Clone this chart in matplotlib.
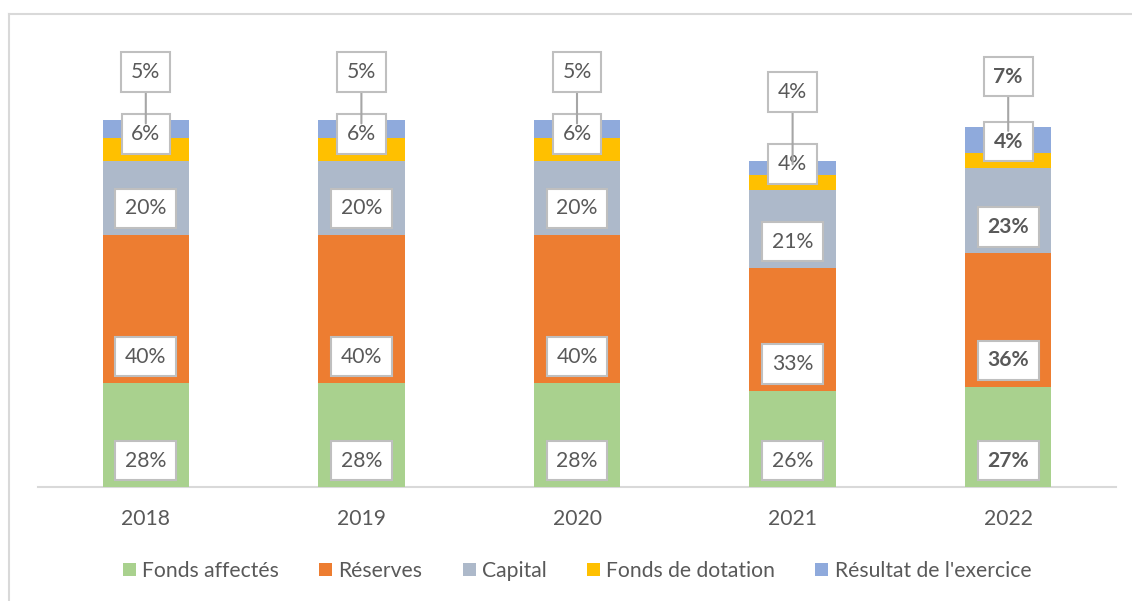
import matplotlib
matplotlib.use("Agg")
import matplotlib.pyplot as plt
from matplotlib.lines import Line2D
import numpy as np

years = ["2018", "2019", "2020", "2021", "2022"]
series_names = ["Fonds affectés", "Réserves", "Capital", "Fonds de dotation", "Résultat de l'exercice"]
fonds_affectes = [28, 28, 28, 26, 27]
reserves = [40, 40, 40, 33, 36]
capital = [20, 20, 20, 21, 23]
fonds_dotation = [6, 6, 6, 4, 4]
resultat = [5, 5, 5, 4, 7]

colors = ["#A9D18E", "#ED7D31", "#ADB9CA", "#FFC000", "#8FAADC"]
text_color = "#595959"
plt.rcParams['font.family'] = ['Lato', 'DejaVu Sans']
FS = 15.2

W, H = 1132, 601
fig = plt.figure(figsize=(W / 100, H / 100), dpi=100)
ax_left, ax_right, ax_bottom, ax_top = 38, 1116, 487, 30
ax = fig.add_axes([ax_left / W, (H - ax_bottom) / H, (ax_right - ax_left) / W, (ax_bottom - ax_top) / H])

px_per_unit = 3.71
ax.set_ylim(0, (ax_bottom - ax_top) / px_per_unit)
ax.set_xlim(-0.5, len(years) - 0.5)

# figure border (cropped frame)
fig.add_artist(Line2D([9 / W, 9 / W], [0, 1 - 14 / H], color="#D9D9D9", lw=1.5))
fig.add_artist(Line2D([9 / W, 1], [1 - 14 / H, 1 - 14 / H], color="#D9D9D9", lw=1.5))

x = np.arange(len(years))
data = [fonds_affectes, reserves, capital, fonds_dotation, resultat]
bottom = np.zeros(len(years))
bottoms = []
for vals, c, name in zip(data, colors, series_names):
    ax.bar(x, vals, bottom=bottom, width=0.4, color=c, label=name, zorder=2)
    bottoms.append(bottom.copy())
    bottom = bottom + np.array(vals)

box = dict(boxstyle="square,pad=0.46", fc="white", ec="#BFBFBF", lw=1.5)

# inside-base labels for first four series
for si in range(4):
    for i in range(len(years)):
        bold = (i == len(years) - 1)
        ax.annotate(f"{data[si][i]}%", xy=(x[i], bottoms[si][i]), xytext=(0, 19),
                    textcoords="offset points", ha="center", va="center",
                    fontsize=FS, color=text_color, fontweight="bold" if bold else "normal",
                    bbox=box, zorder=5)

# callout labels for the last series
callout_offsets = [37, 37, 37, 52, 39]
for i in range(len(years)):
    bold = (i == len(years) - 1)
    top = bottoms[4][i] + resultat[i]
    ax.annotate(f"{resultat[i]}%", xy=(x[i], top - 1), xycoords="data",
                xytext=(0, callout_offsets[i]), textcoords="offset points",
                ha="center", va="center", fontsize=FS, color=text_color,
                fontweight="bold" if bold else "normal", bbox=box, zorder=6,
                arrowprops=dict(arrowstyle="-", color="#A6A6A6", lw=1.5, shrinkA=0, shrinkB=0))

for s in ["top", "right", "left"]:
    ax.spines[s].set_visible(False)
ax.spines["bottom"].set_color("#D9D9D9")
ax.spines["bottom"].set_linewidth(1.5)
ax.spines["bottom"].set_zorder(1)
ax.set_yticks([])
ax.set_xticks(x)
ax.set_xticklabels(years, fontsize=FS, color=text_color)
ax.tick_params(axis="x", length=0, pad=16)

ax.legend(loc="center", bbox_to_anchor=(0.5, (ax_bottom - 571) / (ax_bottom - ax_top)),
          ncol=5, frameon=False, fontsize=FS, labelcolor=text_color,
          handlelength=0.62, handleheight=0.62, handletextpad=0.3, columnspacing=1.9)

fig.savefig("out.png", dpi=100)
